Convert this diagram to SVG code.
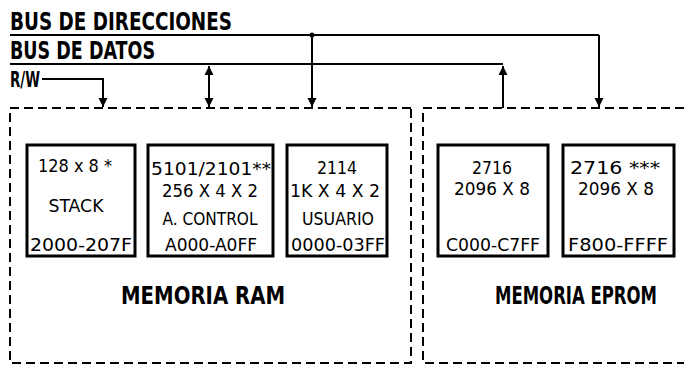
<svg xmlns="http://www.w3.org/2000/svg" width="684" height="370" viewBox="0 0 684 370">
<style>
.bg{fill:#fff}
.hd{font-family:"DejaVu Sans Condensed","DejaVu Sans",sans-serif;font-weight:bold;font-size:25px;fill:#000}
.mem{font-family:"DejaVu Sans Condensed","DejaVu Sans",sans-serif;font-weight:bold;font-size:21px;fill:#000;text-anchor:middle}
.tx{font-family:"DejaVu Sans Condensed","DejaVu Sans",sans-serif;font-size:17px;fill:#000;text-anchor:middle}
.chip{fill:none;stroke:#000;stroke-width:3}
.dash{fill:none;stroke:#000;stroke-width:2;stroke-dasharray:9 5}
.ln{fill:none;stroke:#000;stroke-width:2}
</style>
<defs>
<marker id="ah" viewBox="0 0 10 10" refX="10" refY="5" markerWidth="9" markerHeight="10" markerUnits="userSpaceOnUse" orient="auto-start-reverse">
<path d="M0,0 L10,5 L0,10 z" fill="#000"/>
</marker>
</defs>
<rect class="bg" x="0" y="0" width="684" height="370"/>

<g id="labels">
<text class="hd" x="10" y="30" textLength="222" lengthAdjust="spacingAndGlyphs">BUS DE DIRECCIONES</text>
<text class="hd" x="10" y="59" style="font-size:24px" textLength="145" lengthAdjust="spacingAndGlyphs">BUS DE DATOS</text>
<text class="hd" x="10" y="87" style="font-size:22px" textLength="30" lengthAdjust="spacingAndGlyphs">R/W</text>
</g>

<g id="connectors">
<line class="ln" x1="10" y1="35" x2="599" y2="35"/>
<line class="ln" x1="10" y1="64" x2="503" y2="64"/>
<circle cx="312" cy="35" r="2.5" fill="#000"/>
<polyline class="ln" points="42,79 103,79 103,107" marker-end="url(#ah)"/>
<line class="ln" x1="209" y1="66" x2="209" y2="107" marker-start="url(#ah)" marker-end="url(#ah)"/>
<line class="ln" x1="312" y1="35" x2="312" y2="107" marker-end="url(#ah)"/>
<line class="ln" x1="503" y1="108" x2="503" y2="66" marker-end="url(#ah)"/>
<polyline class="ln" points="599,35 599,107" marker-end="url(#ah)"/>
</g>

<g id="ram">
<path class="dash" d="M411,108 L10,108 L10,363 L411,363 Z"/>
<text class="mem" transform="translate(203,304) scale(1,1.15)" x="0" y="0" textLength="164" lengthAdjust="spacingAndGlyphs">MEMORIA RAM</text>
</g>

<g id="eprom">
<path class="dash" d="M684,108 L423,108 L423,363 L684,363"/>
<text class="mem" transform="translate(576,304) scale(1,1.15)" x="0" y="0" textLength="162" lengthAdjust="spacingAndGlyphs">MEMORIA EPROM</text>
</g>

<g id="stack">
<rect class="chip" x="27" y="145" width="108" height="111"/>
<text class="tx" x="75" y="172" textLength="74" lengthAdjust="spacingAndGlyphs">128 x 8 *</text>
<text class="tx" x="76" y="212" textLength="55" lengthAdjust="spacingAndGlyphs">STACK</text>
<text class="tx" x="81" y="251" textLength="102" lengthAdjust="spacingAndGlyphs">2000-207F</text>
</g>

<g id="control">
<rect class="chip" x="148" y="145" width="125" height="111"/>
<text class="tx" x="211" y="175" textLength="120" lengthAdjust="spacingAndGlyphs">5101/2101**</text>
<text class="tx" x="210" y="197" textLength="96" lengthAdjust="spacingAndGlyphs">256 X 4 X 2</text>
<text class="tx" x="210" y="225" textLength="95" lengthAdjust="spacingAndGlyphs">A. CONTROL</text>
<text class="tx" x="211" y="251" textLength="92" lengthAdjust="spacingAndGlyphs">A000-A0FF</text>
</g>

<g id="usuario">
<rect class="chip" x="287" y="145" width="100" height="111"/>
<text class="tx" x="337" y="174" textLength="40" lengthAdjust="spacingAndGlyphs">2114</text>
<text class="tx" x="335" y="197" textLength="90" lengthAdjust="spacingAndGlyphs">1K X 4 X 2</text>
<text class="tx" x="338" y="225" textLength="72" lengthAdjust="spacingAndGlyphs">USUARIO</text>
<text class="tx" x="338" y="251" textLength="94" lengthAdjust="spacingAndGlyphs">0000-03FF</text>
</g>

<g id="eprom1">
<rect class="chip" x="438" y="145" width="110" height="111"/>
<text class="tx" x="492" y="174" textLength="40" lengthAdjust="spacingAndGlyphs">2716</text>
<text class="tx" x="492" y="195" textLength="76" lengthAdjust="spacingAndGlyphs">2096 X 8</text>
<text class="tx" x="493" y="251" textLength="94" lengthAdjust="spacingAndGlyphs">C000-C7FF</text>
</g>

<g id="eprom2">
<rect class="chip" x="563" y="145" width="111" height="111"/>
<text class="tx" x="615" y="174" textLength="90" lengthAdjust="spacingAndGlyphs">2716 ***</text>
<text class="tx" x="616" y="195" textLength="76" lengthAdjust="spacingAndGlyphs">2096 X 8</text>
<text class="tx" x="618" y="251" textLength="100" lengthAdjust="spacingAndGlyphs">F800-FFFF</text>
</g>
</svg>
